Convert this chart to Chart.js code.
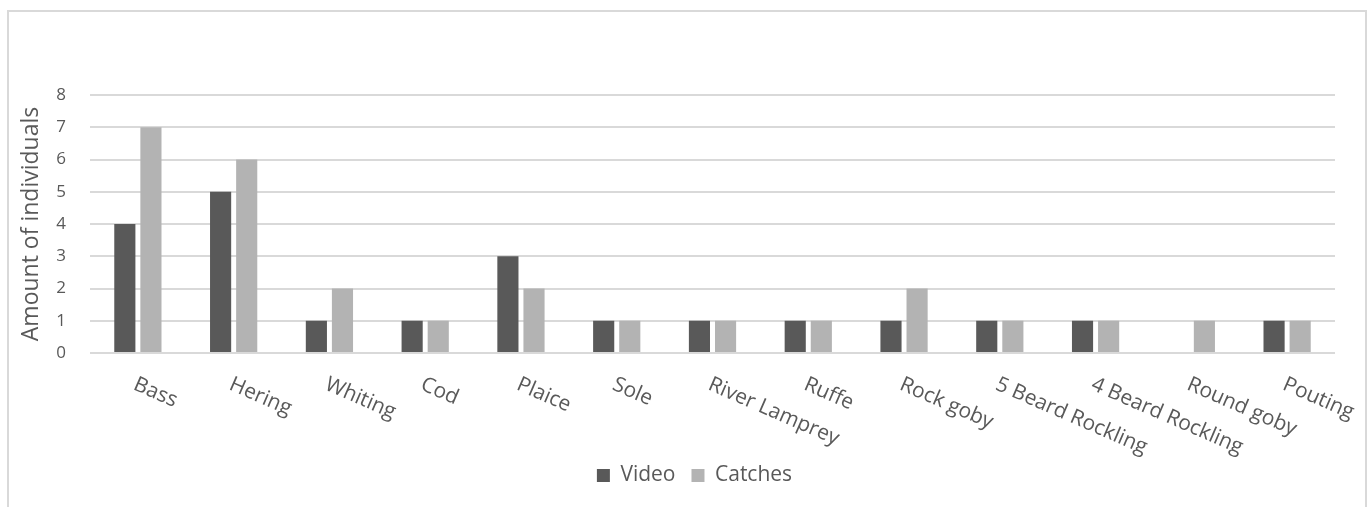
<!DOCTYPE html>
<html>
<head>
<meta charset="utf-8">
<title>Amount of individuals per species</title>
<script src="https://cdn.jsdelivr.net/npm/chart.js@4.4.1/dist/chart.umd.min.js"></script>
<style>
  html, body { margin: 0; padding: 0; background: #ffffff; }
  #frame {
    position: absolute; left: 7px; top: 10px;
    width: 1360px; height: 520px;
    border: 2px solid #d9d9d9; box-sizing: border-box;
  }
  #wrap { position: absolute; left: 0; top: 0; width: 1371px; height: 507px; }
</style>
</head>
<body>
<div id="frame"></div>
<div id="wrap"><canvas id="chart" width="1371" height="507"></canvas></div>
<script>
// Species observed and counts per method
const categories = ['Bass', 'Hering', 'Whiting', 'Cod', 'Plaice', 'Sole', 'River Lamprey',
  'Ruffe', 'Rock goby', '5 Beard Rockling', '4 Beard Rockling', 'Round goby', 'Pouting'];
const videoCounts   = [4, 5, 1, 1, 3, 1, 1, 1, 1, 1, 1, 0, 1];
const catchCounts   = [7, 6, 2, 1, 2, 1, 1, 1, 2, 1, 1, 1, 1];
const yTicks = [0, 1, 2, 3, 4, 5, 6, 7, 8];

const FONT = '"Open Sans", "Noto Sans", sans-serif';
const TEXT = '#595959';
const GRID = '#d9d9d9';

// Category labels slanted downward to the right, starting at each category centre
const slantedLabels = {
  id: 'slantedLabels',
  afterDraw(chart) {
    const xs = chart.scales.x;
    const ctx = chart.ctx;
    const angle = 23.5 * Math.PI / 180;
    ctx.save();
    ctx.font = '21px ' + FONT;
    ctx.fillStyle = TEXT;
    ctx.textAlign = 'left';
    ctx.textBaseline = 'top';
    categories.forEach((label, i) => {
      const x = xs.getPixelForValue(i);
      ctx.save();
      ctx.translate(x + 1, xs.top + 21);
      ctx.rotate(angle);
      ctx.fillText(label, 0, 0);
      ctx.restore();
    });
    ctx.restore();
  }
};

// Nudge the legend row a little to the right of the plot centre
const legendShift = {
  id: 'legendShift',
  afterLayout(chart) {
    const lg = chart.legend;
    if (lg) { lg.left += 22; lg.right += 22; }
  }
};

new Chart(document.getElementById('chart'), {
  type: 'bar',
  data: {
    labels: categories,
    datasets: [
      { label: 'Video', data: videoCounts, backgroundColor: '#595959', borderWidth: 0 },
      { label: 'Catches', data: catchCounts, backgroundColor: '#b3b3b3', borderWidth: 0 }
    ]
  },
  options: {
    responsive: false,
    animation: false,
    devicePixelRatio: 1,
    categoryPercentage: 0.545,
    barPercentage: 0.81,
    layout: { padding: { left: 10, right: 36, top: 95, bottom: 11 } },
    plugins: {
      tooltip: { enabled: false },
      legend: {
        position: 'bottom',
        labels: {
          font: { family: FONT, size: 21 },
          color: TEXT,
          boxWidth: 13,
          boxHeight: 13,
          padding: 16
        }
      }
    },
    scales: {
      x: {
        grid: { display: false },
        border: { display: false },
        ticks: { display: false },
        afterFit(scale) { scale.height = 96; }
      },
      y: {
        min: 0,
        max: 8,
        afterBuildTicks(scale) { scale.ticks = yTicks.map(v => ({ value: v })); },
        ticks: {
          font: { family: FONT, size: 17 },
          color: TEXT,
          padding: 24
        },
        grid: { color: GRID, lineWidth: 2, drawTicks: false },
        border: { display: false },
        title: {
          display: true,
          text: 'Amount of individuals',
          font: { family: FONT, size: 23 },
          color: TEXT,
          padding: { top: 8, bottom: 0 }
        },
        afterFit(scale) { scale.width = 80; }
      }
    }
  },
  plugins: [slantedLabels, legendShift]
});
</script>
</body>
</html>
